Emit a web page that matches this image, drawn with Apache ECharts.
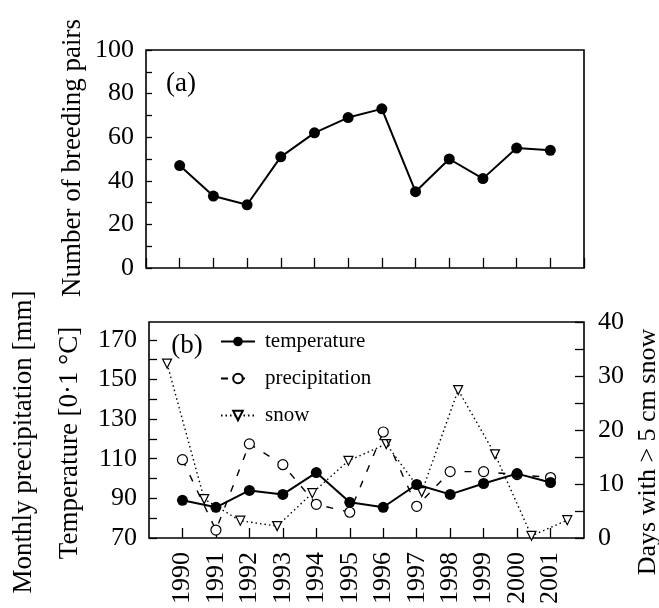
<!DOCTYPE html>
<html>
<head>
<meta charset="utf-8">
<script src="https://cdn.jsdelivr.net/npm/echarts@6/dist/echarts.min.js"></script>
<style>
html,body{margin:0;padding:0;background:#fff;}
#chart{width:659px;height:608px;}
</style>
</head>
<body>
<div id="chart"></div>
<script>
// ---- data ----
var years = [1990, 1991, 1992, 1993, 1994, 1995, 1996, 1997, 1998, 1999, 2000, 2001];
var breedingPairs = [47, 33, 29, 51, 62, 69, 73, 35, 50, 41, 55, 54];
var temperature = [89, 85.5, 94, 92, 103, 88, 85.5, 97, 92, 97.5, 102.5, 98];
var precipitation = [109.5, 74, 117.5, 107, 87, 83, 123.5, 86, 103.5, 103.5, 102, 100.5];
// snow points are drawn slightly shifted along x in the reference
var snowX = [1989.54, 1990.65, 1991.73, 1992.83, 1993.88, 1994.96, 1996.09, 1997.15, 1998.24, 1999.34, 2000.43, 2001.5];
var snowDays = [32.3, 7.2, 3.2, 2.2, 8.3, 14.3, 17.4, 8.5, 27.4, 15.5, 0.4, 3.3];
var leftTicksTop = [0, 20, 40, 60, 80, 100];
var leftTicksBottom = [70, 90, 110, 130, 150, 170];
var rightTicks = [0, 10, 20, 30, 40];

function pairs(xs, ys) { return xs.map(function (x, i) { return [x, ys[i]]; }); }

var FONT = '"Liberation Serif", "DejaVu Serif", serif';
var chart = echarts.init(document.getElementById('chart'), null, {renderer: 'canvas'});

var axisLabelStyle = {color: '#000', fontFamily: FONT, fontSize: 26};

var option = {
  backgroundColor: '#fff',
  animation: false,
  grid: [
    {left: 146, right: 75, top: 50, height: 218, show: true, borderColor: '#000', borderWidth: 1.6, backgroundColor: 'transparent'},
    {left: 149, right: 75, top: 322, height: 216, show: true, borderColor: '#000', borderWidth: 1.6, backgroundColor: 'transparent'}
  ],
  xAxis: [
    {type: 'value', gridIndex: 0, min: 1989, max: 2002, interval: 1,
     axisLine: {show: false}, splitLine: {show: false},
     axisTick: {show: true, inside: true, length: 10, lineStyle: {color: '#000', width: 1.3}},
     axisLabel: {show: false}},
    {type: 'value', gridIndex: 1, min: 1989, max: 2002, interval: 1,
     axisLine: {show: false}, splitLine: {show: false},
     axisTick: {show: true, inside: true, length: 10, lineStyle: {color: '#000', width: 1.3}},
     axisLabel: Object.assign({rotate: 90, margin: 14, showMinLabel: false, showMaxLabel: false,
       formatter: function (v) { return years.indexOf(v) >= 0 ? String(v) : ''; }}, axisLabelStyle)}
  ],
  yAxis: [
    {type: 'value', gridIndex: 0, min: 0, max: 100, interval: 10,
     axisLine: {show: false}, splitLine: {show: false},
     axisTick: {show: true, inside: true, length: 6, lineStyle: {color: '#000', width: 1.3}},
     axisLabel: Object.assign({margin: 12, formatter: function (v) { return leftTicksTop.indexOf(v) >= 0 ? String(v) : ''; }}, axisLabelStyle)},
    {type: 'value', gridIndex: 1, min: 70, max: 179, interval: 10,
     axisLine: {show: false}, splitLine: {show: false},
     axisTick: {show: true, inside: true, length: 8, lineStyle: {color: '#000', width: 1.3}},
     axisLabel: Object.assign({margin: 12, showMaxLabel: false, formatter: function (v) { return leftTicksBottom.indexOf(v) >= 0 ? String(v) : ''; }}, axisLabelStyle)},
    {type: 'value', gridIndex: 1, position: 'right', min: 0, max: 40, interval: 5,
     axisLine: {show: false}, splitLine: {show: false},
     axisTick: {show: true, inside: true, length: 9, lineStyle: {color: '#000', width: 1.3}},
     axisLabel: Object.assign({margin: 14, formatter: function (v) { return rightTicks.indexOf(v) >= 0 ? String(v) : ''; }}, axisLabelStyle)}
  ],
  legend: {
    show: true, orient: 'vertical', left: 215, top: 326,
    itemWidth: 34, itemHeight: 12, itemGap: 16,
    textStyle: {color: '#000', fontFamily: FONT, fontSize: 21, padding: [0, 0, 0, 5]},
    data: ['temperature', 'precipitation', 'snow']
  },
  series: [
    {name: 'pairs', type: 'line', xAxisIndex: 0, yAxisIndex: 0,
     data: pairs(years, breedingPairs), symbol: 'circle', symbolSize: 11,
     lineStyle: {color: '#000', width: 2}, itemStyle: {color: '#000'}, z: 5},
    {name: 'snow', type: 'line', xAxisIndex: 1, yAxisIndex: 2,
     data: pairs(snowX, snowDays), symbol: 'triangle', symbolRotate: 180, symbolSize: 9,
     lineStyle: {color: '#000', width: 1.4, type: [1.5, 3]},
     itemStyle: {color: '#fff', borderColor: '#000', borderWidth: 1.2}, z: 3},
    {name: 'precipitation', type: 'line', xAxisIndex: 1, yAxisIndex: 1,
     data: pairs(years, precipitation), symbol: 'circle', symbolSize: 10,
     lineStyle: {color: '#000', width: 1.4, type: [7, 10]},
     itemStyle: {color: '#fff', borderColor: '#000', borderWidth: 1.2}, z: 4},
    {name: 'temperature', type: 'line', xAxisIndex: 1, yAxisIndex: 1,
     data: pairs(years, temperature), symbol: 'circle', symbolSize: 11,
     lineStyle: {color: '#000', width: 2}, itemStyle: {color: '#000'}, z: 5}
  ],
  graphic: [
    {type: 'text', x: 73, y: 158, rotation: Math.PI / 2,
     style: {text: 'Number of breeding pairs', font: '27px ' + FONT, fill: '#000', textAlign: 'center', textVerticalAlign: 'middle'}},
    {type: 'text', x: 24, y: 442, rotation: Math.PI / 2,
     style: {text: 'Monthly precipitation [mm]', font: '27px ' + FONT, fill: '#000', textAlign: 'center', textVerticalAlign: 'middle'}},
    {type: 'text', x: 70, y: 443, rotation: Math.PI / 2,
     style: {text: 'Temperature [0·1 °C]', font: '27px ' + FONT, fill: '#000', textAlign: 'center', textVerticalAlign: 'middle'}},
    {type: 'text', x: 648, y: 452, rotation: Math.PI / 2,
     style: {text: 'Days with > 5 cm snow', font: '26px ' + FONT, fill: '#000', textAlign: 'center', textVerticalAlign: 'middle'}},
    {type: 'text', x: 181, y: 84,
     style: {text: '(a)', font: '27px ' + FONT, fill: '#000', textAlign: 'center', textVerticalAlign: 'middle'}},
    {type: 'text', x: 187, y: 346,
     style: {text: '(b)', font: '27px ' + FONT, fill: '#000', textAlign: 'center', textVerticalAlign: 'middle'}}
  ]
};
chart.setOption(option);
</script>
</body>
</html>
